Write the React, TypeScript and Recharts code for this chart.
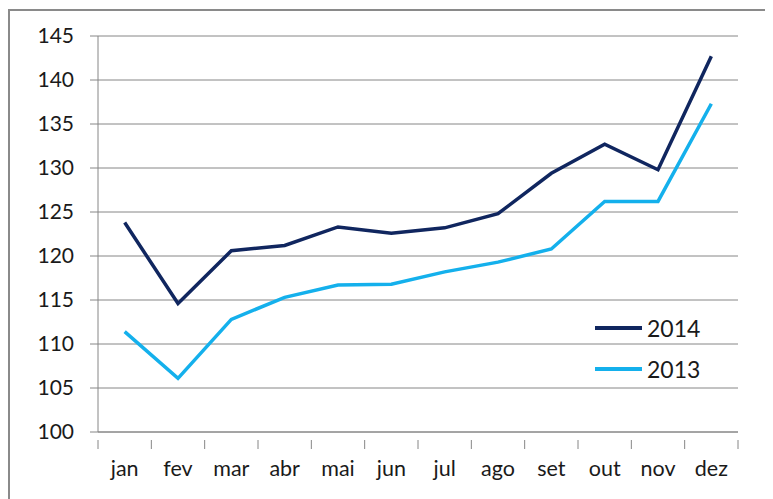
import React from 'react';
import { LineChart, Line, XAxis, YAxis, CartesianGrid } from 'recharts';

const months = ['jan', 'fev', 'mar', 'abr', 'mai', 'jun', 'jul', 'ago', 'set', 'out', 'nov', 'dez'];
const values2014 = [123.8, 114.6, 120.6, 121.2, 123.3, 122.6, 123.2, 124.8, 129.4, 132.7, 129.8, 142.7];
const values2013 = [111.4, 106.1, 112.8, 115.3, 116.7, 116.8, 118.2, 119.3, 120.8, 126.2, 126.2, 137.3];
const yTicks = [100, 105, 110, 115, 120, 125, 130, 135, 140, 145];
const seriesNames = ['2014', '2013'];

const data = months.map((m, i) => ({ m, y2014: values2014[i], y2013: values2013[i] }));

const FONT = 'Lato, "Open Sans", sans-serif';
const AXIS = '#868686';
const C2014 = '#10265F';
const C2013 = '#14B0EC';
const colors = [C2014, C2013];

const XTick = (props: any) => {
  const { x, y, payload, index } = props;
  const off = payload.offset || 0;
  const last = index === months.length - 1;
  return (
    <g>
      <line x1={x - off} x2={x - off} y1={y} y2={y + 9} stroke={AXIS} strokeWidth={1} />
      {last && <line x1={x + off} x2={x + off} y1={y} y2={y + 9} stroke={AXIS} strokeWidth={1} />}
      <text x={x} y={y + 36} textAnchor="middle" fontFamily={FONT} fontSize={21.5} fill="#1a1a1a">
        {payload.value}
      </text>
    </g>
  );
};

export default function App() {
  return (
    <div style={{ position: 'relative', width: 773, height: 499, margin: '-8px 0 0 -8px', background: '#fff', overflow: 'hidden' }}>
      <div
        style={{
          position: 'absolute',
          left: 8,
          top: 9,
          width: 761,
          height: 500,
          border: '2px solid #8a8a8a',
          boxSizing: 'border-box',
        }}
      />
      <div style={{ position: 'absolute', left: 0, top: 0 }}>
        <LineChart width={773} height={499} data={data} margin={{ top: 36, right: 35, bottom: 37, left: 38 }}>
          <CartesianGrid vertical={false} stroke={AXIS} strokeWidth={1} />
          <XAxis
            dataKey="m"
            type="category"
            scale="band"
            axisLine={{ stroke: AXIS }}
            tickLine={false}
            tick={<XTick />}
            height={30}
            interval={0}
          />
          <YAxis
            domain={[100, 145]}
            ticks={yTicks}
            width={60}
            axisLine={{ stroke: AXIS }}
            tickLine={{ stroke: AXIS }}
            tickSize={8}
            tickMargin={16}
            tick={{ fontFamily: FONT, fontSize: 21, fill: '#1a1a1a' }}
            interval={0}
          />
          <Line type="linear" dataKey="y2014" name="2014" stroke={C2014} strokeWidth={3.5} dot={false} isAnimationActive={false} />
          <Line type="linear" dataKey="y2013" name="2013" stroke={C2013} strokeWidth={3.5} dot={false} isAnimationActive={false} />
        </LineChart>
      </div>
      <div style={{ position: 'absolute', left: 595, top: 307, fontFamily: FONT }}>
        {seriesNames.map((name, i) => (
          <div key={name} style={{ display: 'flex', alignItems: 'center', height: 41 }}>
            <div style={{ width: 47, height: 4, background: colors[i], marginRight: 5 }} />
            <span style={{ fontSize: 23, color: '#1a1a1a' }}>{name}</span>
          </div>
        ))}
      </div>
    </div>
  );
}
